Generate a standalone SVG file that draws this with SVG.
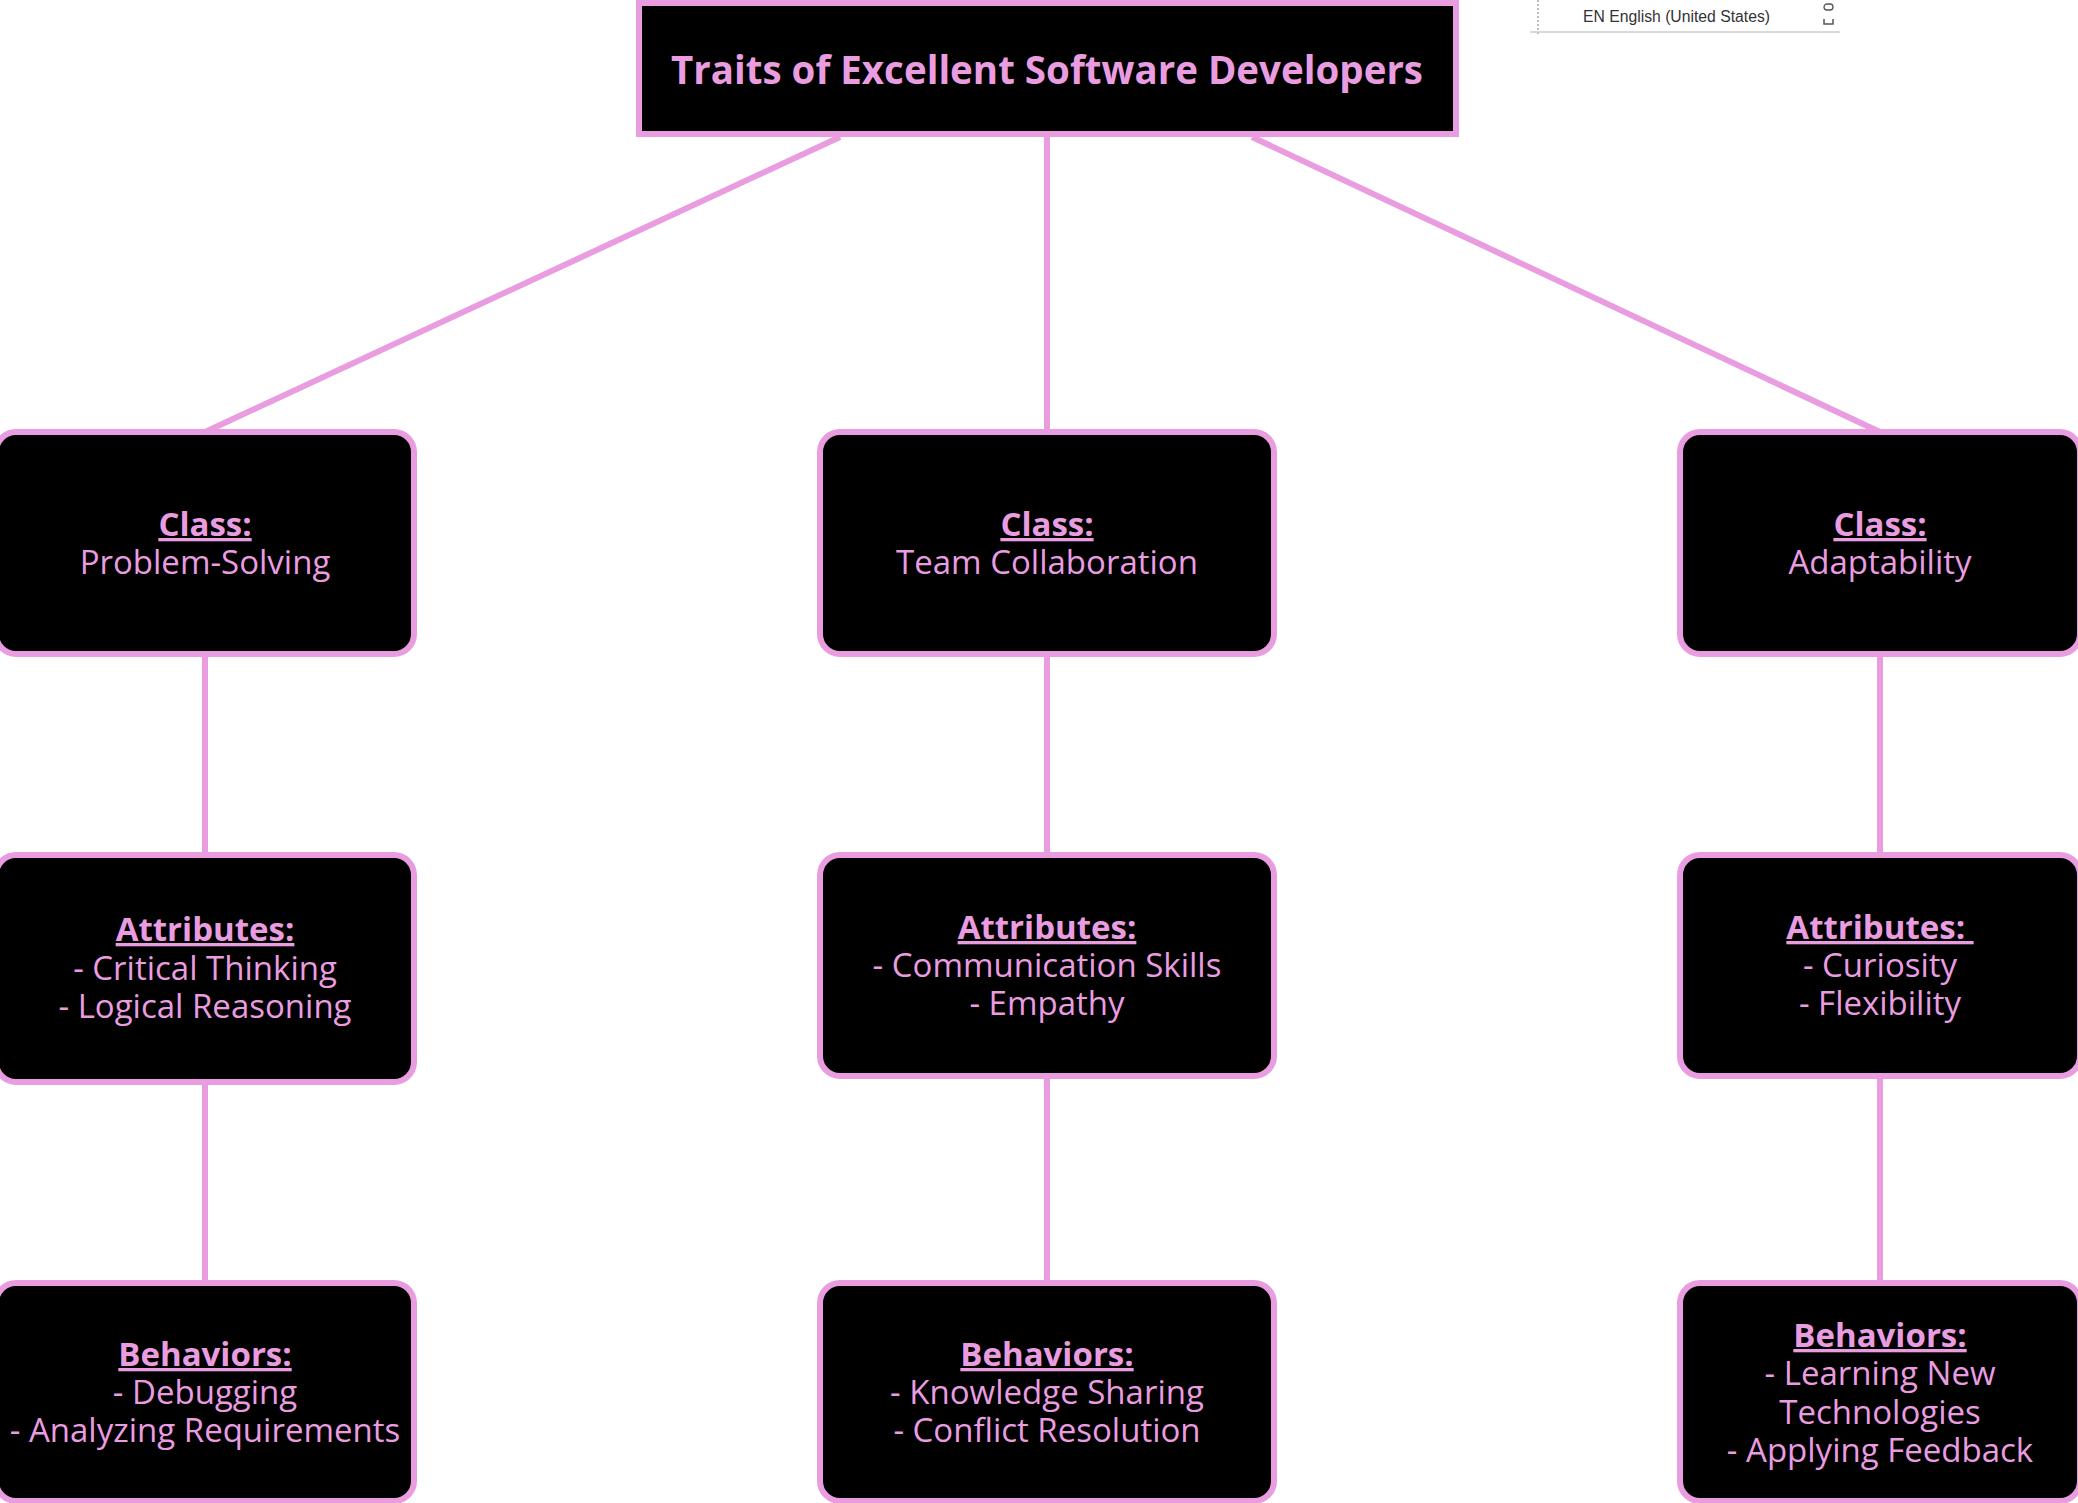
<svg xmlns="http://www.w3.org/2000/svg" width="2078" height="1503" viewBox="0 0 2078 1503">
<style>
.box{fill:#000;stroke:#E99DE0;stroke-width:6}
.conn line{stroke:#E99DE0;stroke-width:6;fill:none}
.t{font-family:"Open Sans","DejaVu Sans",sans-serif;font-size:33px;fill:#E99DE0;text-anchor:middle}
.h{font-weight:bold;text-decoration:underline}
.title{font-family:"Open Sans","DejaVu Sans",sans-serif;font-size:40px;font-weight:bold;fill:#E99DE0;text-anchor:middle}
.lang{font-family:"Liberation Sans",Arial,sans-serif;font-size:16px;fill:#333}
</style>
<rect width="2078" height="1503" fill="#fff"/>
<g id="langbar">
<line x1="1538" y1="0" x2="1538" y2="34" stroke="#aaa" stroke-width="1.5" stroke-dasharray="2,2"/>
<line x1="1530" y1="32" x2="1840" y2="32" stroke="#ccc" stroke-width="1.5"/>
<text class="lang" x="1583" y="22" textLength="187" lengthAdjust="spacingAndGlyphs">EN English (United States)</text>
<rect x="1824" y="4" width="9" height="6" rx="3" fill="none" stroke="#555" stroke-width="1.3"/>
<path d="M1824 19 v5 h9 v-5" fill="none" stroke="#555" stroke-width="1.5"/>
</g>
<g id="connectors" class="conn">
<line x1="840" y1="137" x2="205" y2="432"/>
<line x1="1047" y1="137" x2="1047" y2="432"/>
<line x1="1252" y1="137" x2="1880" y2="432"/>
<line x1="205" y1="657" x2="205" y2="855"/>
<line x1="1047" y1="657" x2="1047" y2="855"/>
<line x1="1880" y1="657" x2="1880" y2="855"/>
<line x1="205" y1="1085" x2="205" y2="1283"/>
<line x1="1047" y1="1079" x2="1047" y2="1283"/>
<line x1="1880" y1="1079" x2="1880" y2="1283"/>
</g>
<g id="title">
<rect class="box" x="639" y="3" width="817" height="131"/>
<text class="title" x="1047" y="84" textLength="752" lengthAdjust="spacingAndGlyphs">Traits of Excellent Software Developers</text>
</g>
<g id="class-problem-solving">
<rect class="box" x="-4" y="432" width="418" height="222" rx="20"/>
<text class="t" x="205" y="536"><tspan class="h">Class:</tspan></text>
<text class="t" x="205" y="574">Problem-Solving</text>
</g>
<g id="class-team-collaboration">
<rect class="box" x="820" y="432" width="454" height="222" rx="20"/>
<text class="t" x="1047" y="536"><tspan class="h">Class:</tspan></text>
<text class="t" x="1047" y="574">Team Collaboration</text>
</g>
<g id="class-adaptability">
<rect class="box" x="1680" y="432" width="400" height="222" rx="20"/>
<text class="t" x="1880" y="536"><tspan class="h">Class:</tspan></text>
<text class="t" x="1880" y="574">Adaptability</text>
</g>
<g id="attr-problem-solving">
<rect class="box" x="-4" y="855" width="418" height="227" rx="20"/>
<text class="t" x="205" y="941"><tspan class="h">Attributes:</tspan></text>
<text class="t" x="205" y="979.5">- Critical Thinking</text>
<text class="t" x="205" y="1018">- Logical Reasoning</text>
</g>
<g id="attr-team-collaboration">
<rect class="box" x="820" y="855" width="454" height="221" rx="20"/>
<text class="t" x="1047" y="939"><tspan class="h">Attributes:</tspan></text>
<text class="t" x="1047" y="977">- Communication Skills</text>
<text class="t" x="1047" y="1015">- Empathy</text>
</g>
<g id="attr-adaptability">
<rect class="box" x="1680" y="855" width="400" height="221" rx="20"/>
<text class="t" x="1880" y="939" xml:space="preserve"><tspan class="h">Attributes: </tspan></text>
<text class="t" x="1880" y="977">- Curiosity</text>
<text class="t" x="1880" y="1015">- Flexibility</text>
</g>
<g id="beh-problem-solving">
<rect class="box" x="-4" y="1283" width="418" height="218" rx="20"/>
<text class="t" x="205" y="1366"><tspan class="h">Behaviors:</tspan></text>
<text class="t" x="205" y="1404">- Debugging</text>
<text class="t" x="205" y="1442">- Analyzing Requirements</text>
</g>
<g id="beh-team-collaboration">
<rect class="box" x="820" y="1283" width="454" height="218" rx="20"/>
<text class="t" x="1047" y="1366"><tspan class="h">Behaviors:</tspan></text>
<text class="t" x="1047" y="1404">- Knowledge Sharing</text>
<text class="t" x="1047" y="1442">- Conflict Resolution</text>
</g>
<g id="beh-adaptability">
<rect class="box" x="1680" y="1283" width="400" height="218" rx="20"/>
<text class="t" x="1880" y="1347"><tspan class="h">Behaviors:</tspan></text>
<text class="t" x="1880" y="1385">- Learning New</text>
<text class="t" x="1880" y="1424">Technologies</text>
<text class="t" x="1880" y="1462">- Applying Feedback</text>
</g>
</svg>
